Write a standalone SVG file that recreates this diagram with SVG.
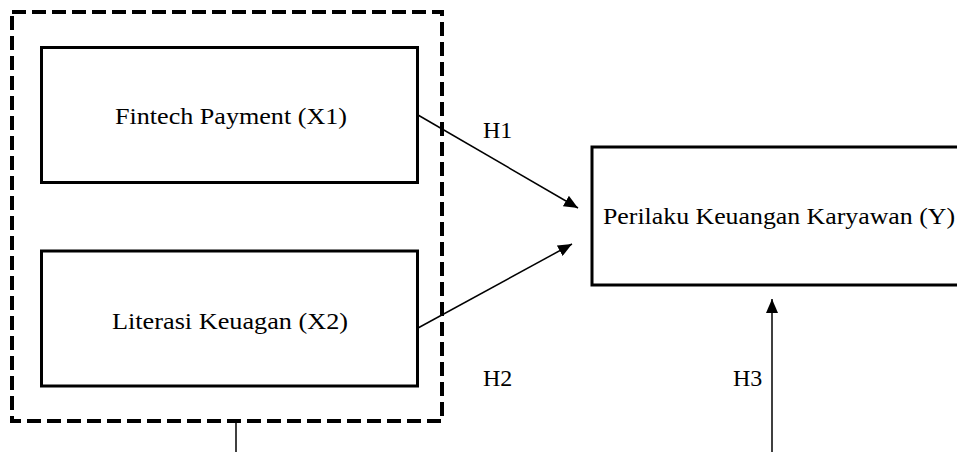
<svg xmlns="http://www.w3.org/2000/svg" width="957" height="452" viewBox="0 0 957 452">
  <style>
    .box { fill: #fff; stroke: #000; stroke-width: 3; }
    .group { fill: none; stroke: #000; stroke-width: 4; stroke-dasharray: 14 6; }
    .edge { fill: none; stroke: #000; stroke-width: 1.5; }
    .lbl { font-family: "Times New Roman", "Liberation Serif", Tinos, Times, serif; font-size: 24px; fill: #000; }
  </style>
  <defs>
    <marker id="arrow" markerUnits="userSpaceOnUse" markerWidth="14" markerHeight="12" refX="14" refY="6" orient="auto">
      <path d="M0,0 L14,6 L0,12 Z" fill="#000"/>
    </marker>
  </defs>
  <rect width="957" height="452" fill="#fff"/>

  <!-- dashed frame around the independent variables -->
  <g id="independent-group">
    <rect class="group" x="12" y="12" width="430" height="409"/>
  </g>

  <g id="x1">
    <rect class="box" x="41.5" y="47.5" width="376" height="135"/>
    <text class="lbl" x="115" y="124" textLength="232" lengthAdjust="spacingAndGlyphs">Fintech Payment (X1)</text>
  </g>

  <g id="x2">
    <rect class="box" x="41.5" y="251" width="376" height="135"/>
    <text class="lbl" x="112" y="329" textLength="236" lengthAdjust="spacingAndGlyphs">Literasi Keuagan (X2)</text>
  </g>

  <g id="y">
    <rect class="box" x="592" y="147" width="380" height="138"/>
    <text class="lbl" x="603" y="224" textLength="352" lengthAdjust="spacingAndGlyphs">Perilaku Keuangan Karyawan (Y)</text>
  </g>

  <g id="connectors">
    <line class="edge" x1="418" y1="115" x2="578" y2="208" marker-end="url(#arrow)"/>
    <line class="edge" x1="418" y1="328" x2="572" y2="244" marker-end="url(#arrow)"/>
    <line class="edge" x1="772" y1="452" x2="772" y2="299" marker-end="url(#arrow)"/>
    <line class="edge" x1="236" y1="421" x2="236" y2="452"/>
  </g>

  <g id="hypothesis-labels">
    <text class="lbl" x="483" y="138">H1</text>
    <text class="lbl" x="483" y="386">H2</text>
    <text class="lbl" x="733" y="386">H3</text>
  </g>
</svg>
